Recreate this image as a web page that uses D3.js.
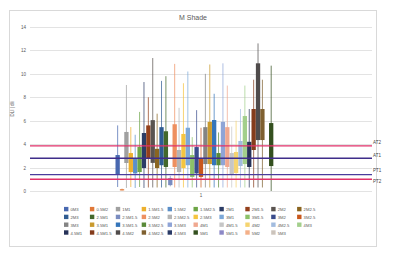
<!DOCTYPE html>
<html>
<head>
<meta charset="utf-8">
<script src="https://cdn.jsdelivr.net/npm/d3@7"></script>
<style>
  body { margin: 0; background: #fff; }
  svg { display: block; font-family: "Liberation Sans", Arial, sans-serif; }
</style>
</head>
<body>
<div id="chart"></div>
<script>
// series names, in legend order
var seriesNames = ["0M3","0.5M2","1M1","1.5M1.5","1.5M2","1.5M2.5","2M1","2M1.5","2M2","2M2.5",
  "2M3","2.5M1","2.5M1.5","2.5M2","2.5M2.5","2.5M3","3M1","3M1.5","3M2","3M2.5",
  "3M3","3.5M1","3.5M1.5","3.5M2.5","3.5M3","4M1","4M1.5","4M2","4M2.5","4M3",
  "4.5M1","4.5M1.5","4.5M2","4.5M2.5","4.5M3","5M1","5M1.5","5M2","5M3"];

// box & whisker values (null = no box shown)
var whiskerLow  = [0.34,0.05,0.26,0.34,0.26,0.34,0.26,0.3,0.3,0.3, 0.3,0.3,0.4,0.3,0.3,0.3,0.3,0.3,0.3,0.3,
  0.3,0.3,0.3,0.3,0.3,0.3,0.3,0.3,0.3,0.3, 0.3,0.3,0.3,0.3,null,0.0,null,null,null];
var q1 = [1.4,0.05,2.39,1.62,1.5,1.62,1.96,2.8,2.4,1.96, 2.2,2.05,0.5,2.05,1.62,1.96,2.2,1.2,1.5,1.2,
  2.3,2.3,2.2,2.2,2.2,2.05,1.45,1.54,2.13,2.3, 2.05,3.5,4.35,4.35,null,2.13,null,null,null];
var q3 = [3.07,0.15,5.04,3.24,2.8,3.76,4.95,5.6,6.05,3.6, 5.45,5.1,1.1,5.7,3.5,4.87,5.4,3.07,3.75,2.8,
  5.45,5.9,6.06,3.24,5.9,5.45,3.24,3.33,4.27,6.4, 4.2,7.0,10.9,7.0,null,5.8,null,null,null];
var whiskerHigh = [5.6,0.2,9.05,5.46,4.8,6.75,9.3,8.0,11.35,6.6, 9.4,9.8,1.3,10.85,7.1,9.2,10.2,4.6,6.9,5.4,
  10.0,10.8,8.3,5.0,10.9,9.0,5.5,6.0,7.0,9.0, 7.0,9.5,12.6,9.5,null,10.7,null,null,null];

// threshold lines
var refNames  = ["AT2","AT1","PT1","PT2"];
var refValues = [3.85,2.8,1.4,1.0];

var categories = ["1"];
var yTicks = [0,2,4,6,8,10,12,14];

var palette = ["#4868B0","#E07838","#A0A0A0","#EDB02E","#5B8FC8","#6DA545","#2C3C66","#94401C","#5A5450","#8A6520",
  "#2F5C92","#43682B","#7A8CC0","#EE9060","#B5B5B5","#F5C540","#7CA8D8","#8CC168","#3A4C8C","#C9581C",
  "#848484","#C99A2E","#3575BA","#5A8A39","#8FA4D6","#F0A890","#C6C6C6","#F5D470","#A2BCDF","#A3CF8C",
  "#263258","#843C1C","#4F4B4B","#7F6030","#2A3A66","#34501F","#8C88C6","#F4B088","#CCC4BC"];
var refColors = ["#E0306A","#3F2D8A","#4A3C9C","#E0306A"];

var w = 395, h = 257;

var svg = d3.select("#chart").append("svg")
  .attr("width", w)
  .attr("height", h);

// chart frame
svg.append("rect")
  .attr("x", 9.5).attr("y", 10.5)
  .attr("width", 367).attr("height", 236)
  .attr("fill", "#fff").attr("stroke", "#d9d9d9");

svg.append("text")
  .attr("x", 193).attr("y", 19.5)
  .attr("text-anchor", "middle")
  .style("font-size", "7px").style("fill", "#595959")
  .text("M Shade");

var y = d3.scaleLinear().domain([0, 14]).range([191, 27]);
var x = d3.scaleBand().domain(categories).range([30, 372]);
var xs = d3.scaleBand().domain(seriesNames)
  .range([x("1") + x.bandwidth() * 0.25, x("1") + x.bandwidth() * 0.75])
  .paddingInner(0.02);

// gridlines
svg.append("g").selectAll("line")
  .data(yTicks)
  .enter().append("line")
  .attr("x1", 30).attr("x2", 372)
  .attr("y1", function (d) { return Math.round(y(d)) + 0.5; })
  .attr("y2", function (d) { return Math.round(y(d)) + 0.5; })
  .style("stroke", "#e3e3e3").style("stroke-width", 1);

// y axis labels
var yAxis = d3.axisLeft(y).tickValues(yTicks).tickSize(0).tickPadding(4);
var gy = svg.append("g").attr("transform", "translate(30,0)").call(yAxis);
gy.select(".domain").remove();
gy.selectAll("text").style("font-size", "4.5px").style("fill", "#595959")
  .style("font-family", "Liberation Sans, Arial, sans-serif");

svg.append("text")
  .attr("transform", "translate(14,109) rotate(-90)")
  .attr("text-anchor", "middle")
  .style("font-size", "4.5px").style("fill", "#595959")
  .text("DLI | dli");

// x axis label
var xAxis = d3.axisBottom(x).tickSize(0).tickPadding(3);
var gx = svg.append("g").attr("transform", "translate(0,191)").call(xAxis);
gx.select(".domain").remove();
gx.selectAll("text").style("font-size", "4.5px").style("fill", "#595959")
  .style("font-family", "Liberation Sans, Arial, sans-serif");

// boxes
var idx = d3.range(seriesNames.length).filter(function (i) { return q1[i] !== null; });

var g = svg.append("g");
g.selectAll("line.whisker")
  .data(idx)
  .enter().append("line")
  .attr("class", "whisker")
  .attr("x1", function (i) { return xs(seriesNames[i]) + xs.bandwidth() / 2; })
  .attr("x2", function (i) { return xs(seriesNames[i]) + xs.bandwidth() / 2; })
  .attr("y1", function (i) { return y(whiskerLow[i]); })
  .attr("y2", function (i) { return y(whiskerHigh[i]); })
  .style("stroke", function (i) { return palette[i]; })
  .style("stroke-opacity", 0.8)
  .style("stroke-width", 0.9);

g.selectAll("rect.box")
  .data(idx)
  .enter().append("rect")
  .attr("class", "box")
  .attr("x", function (i) { return xs(seriesNames[i]); })
  .attr("width", xs.bandwidth())
  .attr("y", function (i) { return y(q3[i]); })
  .attr("height", function (i) { return Math.max(1, y(q1[i]) - y(q3[i])); })
  .style("fill", function (i) { return palette[i]; });

// threshold lines
svg.append("g").selectAll("line")
  .data(refValues)
  .enter().append("line")
  .attr("x1", 30).attr("x2", 372)
  .attr("y1", function (d) { return y(d); })
  .attr("y2", function (d) { return y(d); })
  .style("stroke", function (d, i) { return refColors[i]; })
  .style("stroke-width", 1.4);

var refLabelDy = [-1.5, -1.5, -2.5, 4];
svg.append("g").selectAll("text")
  .data(refNames)
  .enter().append("text")
  .attr("x", 373)
  .attr("y", function (d, i) { return y(refValues[i]) + refLabelDy[i]; })
  .style("font-size", "4.5px").style("fill", "#404040")
  .text(function (d) { return d; });

// legend
var legendX0 = 64, legendDX = 25.9, legendY0 = 210.5, legendDY = 7.8;
var lg = svg.append("g").selectAll("g")
  .data(seriesNames)
  .enter().append("g")
  .attr("transform", function (d, i) {
    return "translate(" + (legendX0 + (i % 10) * legendDX) + "," + (legendY0 + Math.floor(i / 10) * legendDY) + ")";
  });
lg.append("rect")
  .attr("x", 0).attr("y", -3.6)
  .attr("width", 4.4).attr("height", 4.4)
  .style("fill", function (d, i) { return palette[i]; });
lg.append("text")
  .attr("x", 6.5).attr("y", 0.6)
  .style("font-size", "4.2px").style("fill", "#595959")
  .text(function (d) { return d; });
</script>
</body>
</html>
